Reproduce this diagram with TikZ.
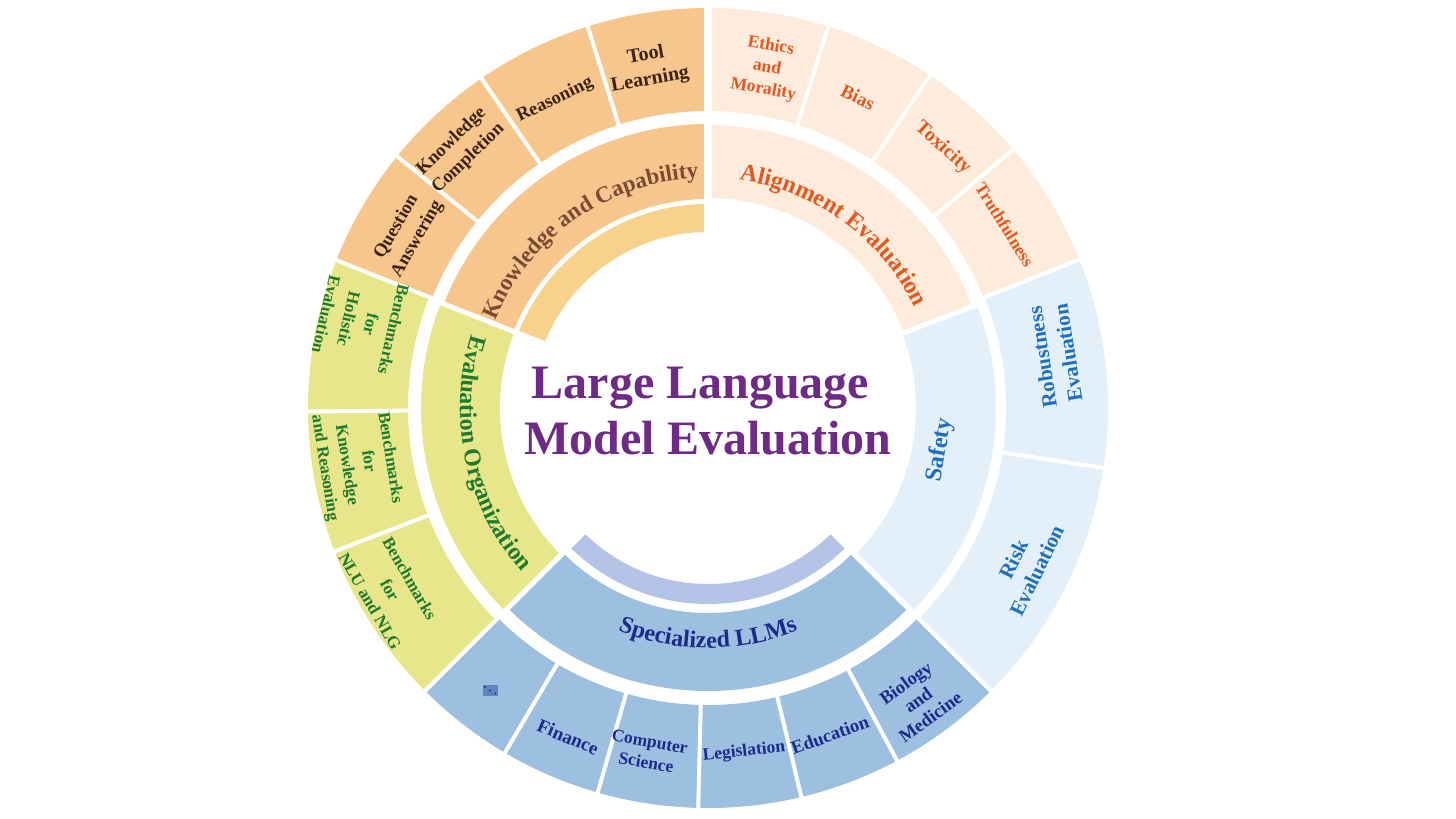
\documentclass[tikz,border=0pt]{standalone}
\usepackage{fontspec}
\setmainfont{Liberation Serif}
\usetikzlibrary{decorations.text}
\definecolor{kcFill}{HTML}{F6C68D}
\definecolor{kcInner}{HTML}{F7D28A}
\definecolor{kcText}{HTML}{3B2212}
\definecolor{kcMid}{HTML}{7A4A34}
\definecolor{alFill}{HTML}{FDEBDB}
\definecolor{alText}{HTML}{E8561D}
\definecolor{sfFill}{HTML}{E3F0FA}
\definecolor{sfText}{HTML}{1E6FC0}
\definecolor{spFill}{HTML}{9DBFE0}
\definecolor{spInner}{HTML}{B3C4E6}
\definecolor{spText}{HTML}{1B2A8C}
\definecolor{iconFill}{HTML}{5F86C2}
\definecolor{eoFill}{HTML}{E8E68A}
\definecolor{eoText}{HTML}{1E7A2E}
\definecolor{ttlColor}{HTML}{6E2A86}
\newcommand\annsec[5]{\fill[#5] (#3:#2) arc[start angle=#3, end angle=#4, radius=#2] -- (#4:#1) arc[start angle=#4, end angle=#3, radius=#1] -- cycle;}
\newcommand\gapln[4]{\draw[white, line width=#4] (#3:#1) -- (#3:#2);}
\newcommand\fsz[2]{\fontsize{#1}{#2}\selectfont}
\newcommand\midbold{\fontsize{24}{24}\selectfont\bfseries}
\newcommand\kcbold{\fontsize{23}{23}\selectfont\bfseries}
\tikzset{
  lab/.style={align=center, inner sep=0pt},
  kcl/.style={lab, text=kcText},
  eol/.style={lab, text=eoText},
  spl/.style={lab, text=spText},
  sfl/.style={lab, text=sfText},
  all/.style={lab, text=alText},
  ttlstyle/.style={align=center, inner sep=0pt, text=ttlColor, font=\bfseries\fsz{48}{56}},
}
\begin{document}
\begin{tikzpicture}[x=1pt, y=1pt]
\useasboundingbox (-708,-411) rectangle (748,408);
% inner arcs
\annsec{176}{204}{90}{159}{kcInner}
\annsec{176}{196}{225}{315}{spInner}
% middle ring
\annsec{209}{284}{90}{158.5}{kcFill}
\annsec{208}{287}{158.5}{225}{eoFill}
\annsec{205}{283}{225}{315}{spFill}
\annsec{208}{288}{-45}{21}{sfFill}
\annsec{210}{283}{21}{90}{alFill}
% outer ring
\annsec{297}{400}{90}{158.3}{kcFill}
\annsec{300}{400}{158.3}{225}{eoFill}
\annsec{297}{400}{225}{315}{spFill}
\annsec{298}{400}{-45}{21.8}{sfFill}
\annsec{297}{400}{21.8}{90}{alFill}
% gaps middle
\gapln{170}{291}{90}{8pt}
\gapln{170}{291}{158.5}{5pt}
\gapln{170}{291}{225}{5pt}
\gapln{170}{291}{-45}{5pt}
\gapln{170}{291}{21}{5pt}
% gaps outer
\gapln{292}{405}{90}{8pt}
\foreach \a in {107.5,124.5,141,158.3,180.5,201,225,239.5,254,268.6,283.5,298.2,315,351.4,21.8,40.3,56.3,72.5}{\gapln{292}{405}{\a}{4pt}}
% title
\node[ttlstyle] (ttl) at (0,-3.5) {Large Language\hspace*{15pt}\\Model Evaluation};
% middle curved labels
\path[decorate, decoration={text along path, text align=center, text color=kcMid, text={|\kcbold|Knowledge and Capability}}] (166:230) arc[start angle=166, end angle=84, radius=230];
\path[decorate, decoration={text along path, text align=center, text color=alText, text={|\midbold|Alignment Evaluation}}] (94:230) arc[start angle=94, end angle=14, radius=230];
\path[decorate, decoration={text along path, text align=center, text color=eoText, text={|\midbold|Evaluation Organization}}] (152:248) arc[start angle=152, end angle=232, radius=248];
\path[decorate, decoration={text along path, text align=center, text color=spText, text={|\midbold|Specialized LLMs}}] (225:240) arc[start angle=225, end angle=315, radius=240];
\node[sfl, font=\bfseries\fsz{24}{24}, rotate=80] (sf) at (232,-42) {Safety};
% outer labels: knowledge
\node[kcl, font=\bfseries\fsz{20}{25}, rotate=10] (tl) at (-60,340) {Tool\\Learning};
\node[kcl, font=\bfseries\fsz{18.5}{22}, rotate=26] (rs) at (-153,308) {Reasoning};
\node[kcl, font=\bfseries\fsz{18.5}{24}, rotate=44] (kc) at (-248,258) {Knowledge\\Completion};
\node[kcl, font=\bfseries\fsz{18.5}{24}, rotate=60] (qa) at (-301,175) {Question\\Answering};
% evaluation organization
\node[eol, font=\bfseries\fsz{17}{23}, rotate=-103] (bh) at (-348,86) {Benchmarks\\for\\Holistic\\Evaluation};
\node[eol, font=\bfseries\fsz{17}{22}, rotate=-81] (bk) at (-351,-55) {Benchmarks\\for\\Knowledge\\and Reasoning};
\node[eol, font=\bfseries\fsz{17}{23}, rotate=-60] (bn) at (-318,-182) {Benchmarks\\for\\NLU and NLG};
% specialized
\node[fill=iconFill, minimum width=15pt, minimum height=11pt, inner sep=0pt] (ic) at (-217.5,-282.5) {};
\fill[spText] (-223,-279) circle (1.2);
\fill[spText] (-218,-282.5) circle (1.2);
\fill[spText] (-212.5,-285.5) circle (1.2);
\node[spl, font=\bfseries\fsz{19}{22}, rotate=-23] (fi) at (-140,-329) {Finance};
\node[spl, font=\bfseries\fsz{17.5}{21}, rotate=-10] (cs) at (-60,-344) {Computer\\Science};
\node[spl, font=\bfseries\fsz{17.5}{20}, rotate=6] (lg) at (36,-344) {Legislation};
\node[spl, font=\bfseries\fsz{18.5}{20}, rotate=20] (ed) at (122,-327) {Education};
\node[spl, font=\bfseries\fsz{18.5}{21}, rotate=36] (bm) at (210,-292) {Biology\\and\\Medicine};
% safety
\node[sfl, font=\bfseries\fsz{21}{26}, rotate=99] (re) at (347,53) {Robustness\\Evaluation};
\node[sfl, font=\bfseries\fsz{21}{26}, rotate=64] (ri) at (317,-157) {Risk\\Evaluation};
% alignment
\node[all, font=\bfseries\fsz{17.5}{22}, rotate=-10] (em) at (59,340) {Ethics\\and\\Morality};
\node[all, font=\bfseries\fsz{19}{22}, rotate=-26] (bi) at (150,311) {Bias};
\node[all, font=\bfseries\fsz{20}{22}, rotate=-42] (tx) at (235,260) {Toxicity};
\node[all, font=\bfseries\fsz{17.5}{22}, rotate=-58] (tr) at (297,183) {Truthfulness};
\end{tikzpicture}
\end{document}
